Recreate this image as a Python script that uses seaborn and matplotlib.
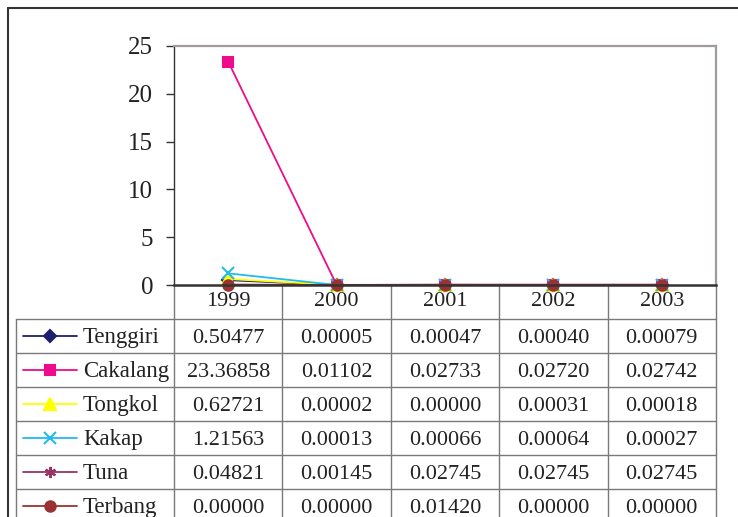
import matplotlib
matplotlib.use("Agg")
import matplotlib.pyplot as plt
from matplotlib.lines import Line2D
import seaborn as sns
import pandas as pd

years = [1999, 2000, 2001, 2002, 2003]
species = ["Tenggiri", "Cakalang", "Tongkol", "Kakap", "Tuna", "Terbang"]
tenggiri = [0.50477, 0.00005, 0.00047, 0.00040, 0.00079]
cakalang = [23.36858, 0.01102, 0.02733, 0.02720, 0.02742]
tongkol = [0.62721, 0.00002, 0.00000, 0.00031, 0.00018]
kakap = [1.21563, 0.00013, 0.00066, 0.00064, 0.00027]
tuna = [0.04821, 0.00145, 0.02745, 0.02745, 0.02745]
terbang = [0.00000, 0.00000, 0.01420, 0.00000, 0.00000]
yticks = [0, 5, 10, 15, 20, 25]

series = [tenggiri, cakalang, tongkol, kakap, tuna, terbang]
colors = {"Tenggiri": "#1f1f6e", "Cakalang": "#ee0c8c", "Tongkol": "#ffff00",
          "Kakap": "#22bbee", "Tuna": "#993366", "Terbang": "#993333"}
markers = {"Tenggiri": "D", "Cakalang": "s", "Tongkol": "^",
           "Kakap": "x", "Tuna": (6, 2, 0), "Terbang": "o"}
msizes = {"Tenggiri": 6, "Cakalang": 7.5, "Tongkol": 8, "Kakap": 8, "Tuna": 8, "Terbang": 7.5}

df = pd.DataFrame([(y, s, v) for s, vals in zip(species, series) for y, v in zip(years, vals)],
                  columns=["year", "species", "value"])

sns.set_style("white")
plt.rcParams["font.family"] = ["Liberation Serif", "DejaVu Serif"]

W, H = 738, 517
fig = plt.figure(figsize=(W / 100, H / 100), dpi=100)

def fx(p):
    return p / W

def fy(p):
    return 1 - p / H

x0, x1 = 174, 716
ax = fig.add_axes([fx(x0), fy(285), fx(x1) - fx(x0), fy(46) - fy(285)])
tax = fig.add_axes([fx(16), fy(523), fx(x1) - fx(16), fy(285) - fy(523)], zorder=0)
ax.set_zorder(2)
ax.patch.set_alpha(0)

for s in species:
    sub = df[df.species == s]
    sns.lineplot(data=sub, x="year", y="value", ax=ax, color=colors[s], marker=markers[s],
                 markersize=msizes[s], markeredgecolor=colors[s], markeredgewidth=1.5,
                 linewidth=1.3, legend=False, clip_on=False)

ax.set_xlim(years[0] - 0.5, years[-1] + 0.5)
ax.set_ylim(0, 25)
ax.set_yticks(yticks)
ax.set_yticklabels([str(t) for t in yticks], fontsize=18, color="#222222")
ax.set_xticks([])
ax.set_xlabel("")
ax.set_ylabel("")
ax.tick_params(axis="y", direction="out", length=6, width=1, color="#333333", pad=9, left=True)
for side in ["top", "right"]:
    ax.spines[side].set_color("#a09a9a")
    ax.spines[side].set_linewidth(1.6)
ax.spines["left"].set_color("#333333")
ax.spines["left"].set_linewidth(1)
ax.spines["bottom"].set_color("#333333")
ax.spines["bottom"].set_linewidth(1.8)

# table
colw = (x1 - x0) / len(years)
legw = (x0 - 16) / colw
left = years[0] - 0.5 - legw
tax.set_xlim(left, years[-1] + 0.5)
tax.set_ylim(7, 0)
tax.axis("off")
gc = "#7a7a7a"
for k in range(len(years) + 1):
    tax.plot([years[0] - 0.5 + k] * 2, [0, 7], color=gc, lw=1, clip_on=False)
tax.plot([left, left], [1, 7], color=gc, lw=1, clip_on=False)
for r in range(1, 7):
    tax.plot([left, years[-1] + 0.5], [r, r], color=gc, lw=1, clip_on=False)

for y in years:
    tax.text(y, 0.5, str(y), ha="center", va="center", fontsize=16, color="#222222")

for i, (s, vals) in enumerate(zip(species, series)):
    r = i + 1.5
    for y, v in zip(years, vals):
        tax.text(y, r + 0.07, f"{v:.5f}", ha="center", va="center", fontsize=16, color="#222222")
    la = left + (23 - 16) / colw
    lb = left + (77 - 16) / colw
    tax.add_line(Line2D([la, lb], [r, r], color=colors[s], lw=1.3))
    tax.add_line(Line2D([(la + lb) / 2], [r], color=colors[s], marker=markers[s],
                        markersize=msizes[s], markeredgecolor=colors[s], markeredgewidth=1.5))
    tax.text(left + (83 - 16) / colw, r + 0.03, s, ha="left", va="center", fontsize=16.5,
             color="#222222")

# outer frame
fig.add_artist(Line2D([fx(8), 1], [fy(8), fy(8)], color="#333333", lw=1.5))
fig.add_artist(Line2D([fx(8), fx(8)], [fy(8), 0], color="#333333", lw=1.5))

fig.savefig("out.png", dpi=100)
